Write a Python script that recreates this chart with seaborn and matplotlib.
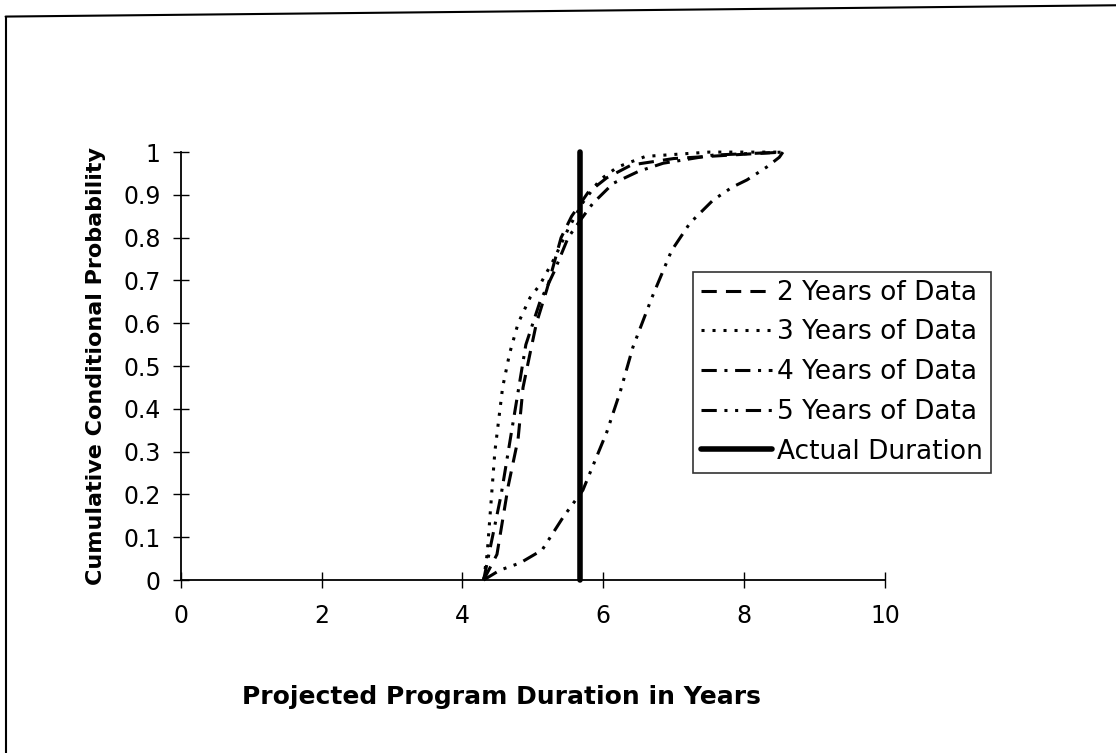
import numpy as np
import pandas as pd
import matplotlib
matplotlib.use('Agg')
import matplotlib.pyplot as plt
from matplotlib.lines import Line2D
import seaborn as sns

# values
x_2yr = [4.30, 4.49, 4.65, 4.79, 4.86, 4.96, 5.05, 5.20, 5.40, 5.55, 5.78, 6.05, 6.40, 7.00, 8.00, 8.55]
y_2yr = [0.00, 0.06, 0.22, 0.33, 0.45, 0.53, 0.60, 0.68, 0.80, 0.85, 0.905, 0.94, 0.97, 0.985, 0.995, 1.00]

x_3yr = [4.30, 4.35, 4.46, 4.57, 4.67, 4.79, 4.96, 5.10, 5.30, 5.50, 5.70, 5.95, 6.20, 6.60, 7.50, 8.55]
y_3yr = [0.00, 0.06, 0.30, 0.45, 0.53, 0.60, 0.66, 0.69, 0.75, 0.82, 0.88, 0.935, 0.965, 0.99, 1.00, 1.00]

x_4yr = [4.30, 4.55, 4.75, 4.90, 5.10, 5.30, 5.50, 5.67, 5.85, 6.14, 6.50, 6.85, 7.56, 8.55]
y_4yr = [0.00, 0.20, 0.40, 0.55, 0.65, 0.72, 0.80, 0.84, 0.88, 0.927, 0.955, 0.974, 0.993, 1.00]

x_5yr = [4.30, 4.53, 4.82, 5.13, 5.43, 5.71, 6.05, 6.24, 6.42, 6.69, 6.97, 7.23, 7.56, 7.83, 8.04, 8.32, 8.50, 8.55]
y_5yr = [0.00, 0.023, 0.04, 0.07, 0.147, 0.21, 0.346, 0.44, 0.544, 0.66, 0.77, 0.834, 0.888, 0.918, 0.935, 0.965, 0.988, 1.00]

actual_duration = 5.67

labels = ['2 Years of Data', '3 Years of Data', '4 Years of Data', '5 Years of Data', 'Actual Duration']

sns.set_style('white')
plt.rcParams['font.family'] = ['DejaVu Sans']
plt.rcParams['text.color'] = 'black'
plt.rcParams['axes.labelcolor'] = 'black'
plt.rcParams['xtick.color'] = 'black'
plt.rcParams['ytick.color'] = 'black'

fig = plt.figure(figsize=(11.16, 7.53), dpi=100)
ax = fig.add_axes([0.162, 0.2297, 0.631, 0.5683])

styles = [(0, (5, 3)), (0, (1, 2.6)), (0, (5, 2.5, 1, 2.5)), (0, (5, 2.5, 1, 2.5, 1, 2.5))]
series = [(x_2yr, y_2yr), (x_3yr, y_3yr), (x_4yr, y_4yr), (x_5yr, y_5yr)]

handles = []
for (xs, ys), ls, lab in zip(series, styles, labels[:4]):
    sns.lineplot(x=xs, y=ys, ax=ax, color='black', lw=2.2, linestyle=ls,
                 estimator=None, sort=False, clip_on=False)
    handles.append(Line2D([0], [0], color='black', lw=2.2, linestyle=ls))

ax.plot([actual_duration, actual_duration], [0, 1], color='black', lw=4, clip_on=False,
        solid_capstyle='round')
handles.append(Line2D([0], [0], color='black', lw=4))

ax.set_xlim(0, 10)
ax.set_ylim(0, 1)
ax.set_xticks(np.arange(0, 11, 2))
ax.set_yticks(np.round(np.arange(0, 1.01, 0.1), 1))
ax.set_yticklabels(['0'] + [f'{v:.1f}' for v in np.arange(0.1, 0.95, 0.1)] + ['1'])
ax.tick_params(bottom=True, left=True, direction='inout', length=11, width=1,
               colors='black', labelsize=17)
ax.tick_params(axis='x', pad=12)
ax.tick_params(axis='y', pad=9)
for s in ['top', 'right']:
    ax.spines[s].set_visible(False)
for s in ['left', 'bottom']:
    ax.spines[s].set_color('black')
    ax.spines[s].set_linewidth(1.3)

ax.set_xlabel('Projected Program Duration in Years', fontsize=18, fontweight='bold')
ax.xaxis.set_label_coords(0.455, -0.245)
ax.set_ylabel('Cumulative Conditional Probability', fontsize=16, fontweight='bold', labelpad=12)

leg = fig.legend(handles, labels, loc='upper left', bbox_to_anchor=(0.621, 0.639),
                 frameon=True, fancybox=False, edgecolor='black', fontsize=19,
                 handlelength=2.7, handletextpad=0.2, labelspacing=0.52, borderpad=0.3,
                 borderaxespad=0)
leg.get_frame().set_linewidth(1.2)

# scanned page border
fig.add_artist(Line2D([0.005, 0.005], [0.0, 0.978], color='black', lw=1.5))
fig.add_artist(Line2D([0.005, 1.0], [0.978, 0.993], color='black', lw=1.5))

fig.savefig('out.png', dpi=100)
